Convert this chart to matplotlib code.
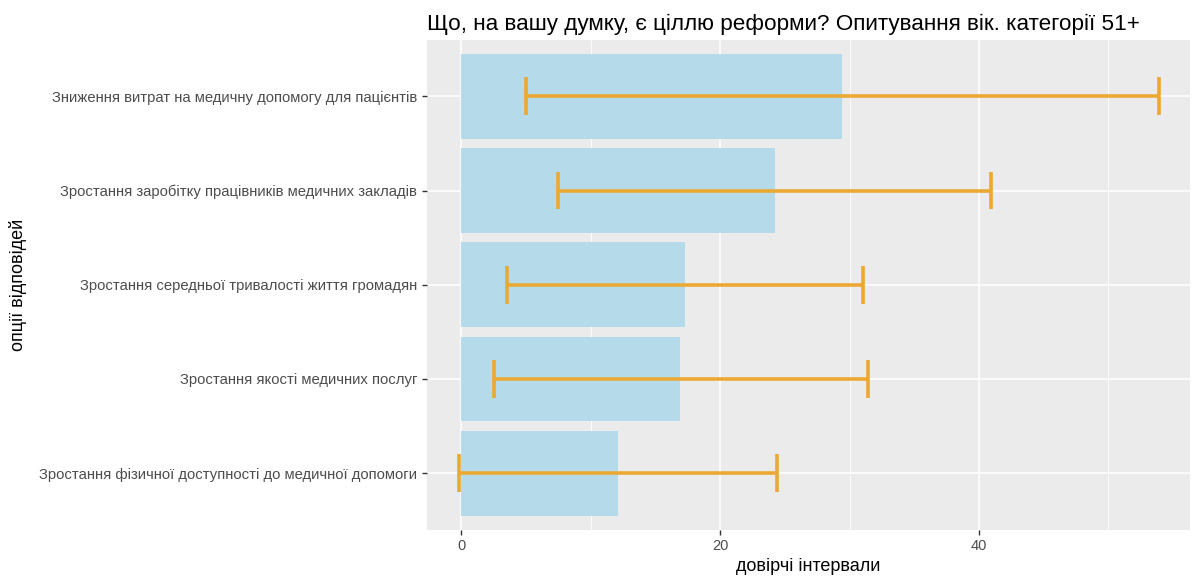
import matplotlib

matplotlib.use("Agg")
import matplotlib.pyplot as plt
import numpy as np
from matplotlib.ticker import MultipleLocator

# data (order: top to bottom)
categories = [
    "Зниження витрат на медичну допомогу для пацієнтів",
    "Зростання заробітку працівників медичних закладів",
    "Зростання середньої тривалості життя громадян",
    "Зростання якості медичних послуг",
    "Зростання фізичної доступності до медичної допомоги",
]
values = [29.4, 24.2, 17.3, 16.9, 12.1]
ci_low = [5.0, 7.5, 3.5, 2.5, -0.15]
ci_high = [53.9, 40.9, 31.0, 31.4, 24.4]

PANEL = "#ebebeb"
BAR = "#b5dbea"
ERR = "#eba933"
TICK_TXT = "#4d4d4d"

fig = plt.figure(figsize=(11.93, 5.77), dpi=100)
ax = fig.add_axes([0.358, 0.082, 0.6395, 0.849])
ax.set_facecolor(PANEL)

n = len(categories)
y = np.arange(n)[::-1] + 1  # first category on top

ax.barh(y, values, height=0.9, color=BAR, zorder=2)

cap = 0.2
for yi, lo, hi in zip(y, ci_low, ci_high):
    ax.plot([lo, hi], [yi, yi], color=ERR, lw=2.6, zorder=3, solid_capstyle="butt")
    ax.plot([lo, lo], [yi - cap, yi + cap], color=ERR, lw=2.6, zorder=3, solid_capstyle="butt")
    ax.plot([hi, hi], [yi - cap, yi + cap], color=ERR, lw=2.6, zorder=3, solid_capstyle="butt")

ax.set_xlim(-2.65, 56.3)
ax.set_ylim(0.4, n + 0.6)

ax.xaxis.set_major_locator(MultipleLocator(20))
ax.xaxis.set_minor_locator(MultipleLocator(10))
ax.set_yticks(y)
ax.set_yticklabels(categories, family="Liberation Sans", fontsize=10.7, color=TICK_TXT)
for lab in ax.get_xticklabels():
    lab.set_fontsize(10.5)
    lab.set_color(TICK_TXT)
    lab.set_family("Liberation Sans")

ax.grid(which="major", color="white", lw=1.1, zorder=1)
ax.grid(which="minor", axis="x", color="white", lw=0.6, zorder=1)
ax.set_axisbelow(True)
ax.tick_params(which="major", length=3.5, width=1, color="#333333")
ax.tick_params(which="minor", length=0)
for s in ax.spines.values():
    s.set_visible(False)

ax.set_xlabel("довірчі інтервали", fontsize=13, labelpad=3, family="Liberation Sans")
ax.set_ylabel("опції відповідей", fontsize=13, family="Liberation Sans")
ax.yaxis.set_label_coords(-0.525, 0.5)
ax.set_title("Що, на вашу думку, є ціллю реформи? Опитування вік. категорії 51+",
             loc="left", fontsize=16.2, family="Liberation Sans", pad=7)

fig.savefig("out.png", dpi=100)
